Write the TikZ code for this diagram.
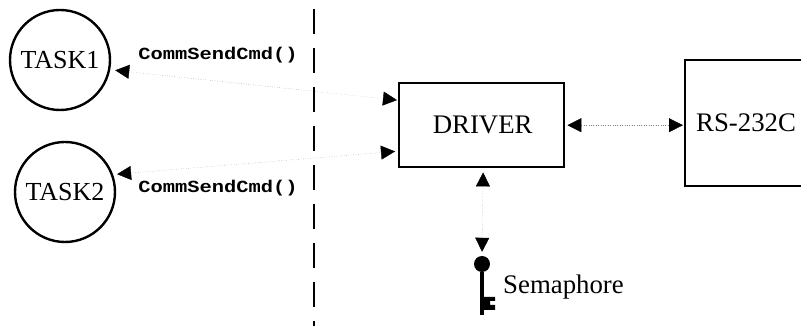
\documentclass[tikz,border=0pt]{standalone}
\usepackage{fontspec}
\setmainfont{Liberation Serif}
\setmonofont{Liberation Mono}
\usetikzlibrary{arrows.meta}

\tikzset{
    head/.tip={Triangle[length=14pt,width=14pt,black]},
    task/.style={circle, draw, line width=2.4pt, minimum size=100pt, inner sep=0pt, font=\fontsize{26}{26}\selectfont},
    block/.style={rectangle, draw, line width=2.4pt, anchor=north west, inner sep=0pt},
    label/.style={inner sep=0pt, font=\fontsize{26.8}{26.8}\selectfont},
    call/.style={inner sep=0pt, xscale=1.2, font=\ttfamily\bfseries\fontsize{17}{17}\selectfont},
    link/.style={head-head, dotted, gray, thin},
}

\begin{document}
\begin{tikzpicture}[x=1pt, y=-1pt]
    \useasboundingbox (0,0) rectangle (801,328);

    % tasks on the left of the boundary
    \node[task](task1) at (60,60) {TASK1};
    \node[task](task2) at (65,192) {TASK2};
    \node[call](call1) at (218,55) {CommSendCmd()};
    \node[call](call2) at (218,188) {CommSendCmd()};

    % boundary
    \coordinate (top) at (314,9);
    \coordinate (bottom) at (314,326);
    \draw[line width=2.4pt, dash pattern=on 25pt off 14pt](top)--(bottom);

    % driver and port
    \node[block, minimum width=165pt, minimum height=84pt](driver) at (398,82) {};
    \node[label] at ([xshift=1pt]driver.center) {DRIVER};
    \node[block, minimum width=130pt, minimum height=126pt](port) at (684,59) {};
    \node[label, anchor=west] at (696,123) {RS-232C};

    % semaphore
    \node[circle, fill, minimum size=16pt, inner sep=0pt](key) at (482,264) {};
    \coordinate (keyend) at (482,315);
    \draw[line width=3.2pt](key)--(keyend);
    \fill (483,297)--(495,297)--(495,301)--(490,301)--(490,305)--(495,305)--(495,310)--(483,310)--cycle;
    \node[label, anchor=west](semaphore) at (503,287) {Semaphore};

    % connections
    \draw[link, shorten <=5pt, shorten >=1pt](task1.-11)--([yshift=25pt]driver.west);
    \draw[link, shorten <=4pt, shorten >=3pt](task2.20)--([yshift=-26pt]driver.west);
    \draw[link, shorten <=2pt, shorten >=1pt](driver.east)--(port.west |- driver.east);
    \draw[link, shorten <=4pt, shorten >=4pt]([xshift=1.5pt]driver.south)--(key.north);
\end{tikzpicture}
\end{document}
